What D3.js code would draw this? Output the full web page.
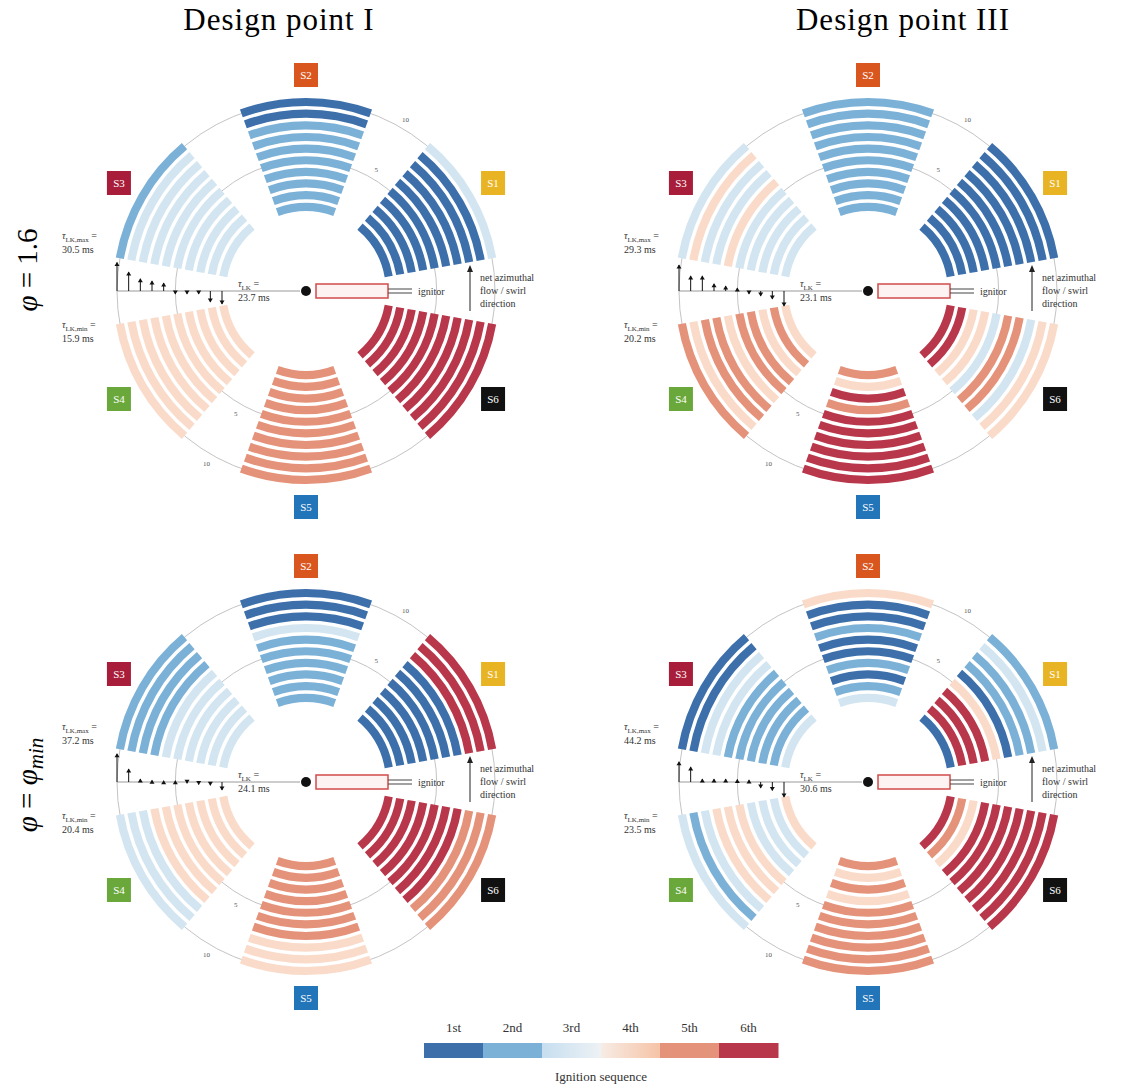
<!DOCTYPE html>
<html>
<head>
<meta charset="utf-8">
<script src="https://cdn.jsdelivr.net/npm/d3@7"></script>
<style>
  body { margin: 0; background: #fff; }
  text { font-family: 'Liberation Serif', 'DejaVu Serif', serif; }
</style>
</head>
<body>
<div id="chart"></div>
<script>
// burners and their azimuthal positions (deg, counter-clockwise from the ignitor)
const sectorNames = ['S1', 'S2', 'S3', 'S4', 'S5', 'S6'];
const sectorAngles = [30, 90, 150, 210, 270, 330];
const sectorColors = ['#e8b423', '#d9561f', '#a81e3a', '#6aa83c', '#2275b8', '#111111'];

const rankLabels = ['1st', '2nd', '3rd', '4th', '5th', '6th'];
const rankColors = ['#3d70ab', '#7cb1d7', '#d2e5f1', '#fadbc9', '#e5927a', '#b9374b'];

const runIds = [1, 2, 3, 4, 5, 6, 7, 8, 9, 10];
const ringLabels = [5, 10];

// ignition rank of each burner (rows S1..S6), runs 1 (inner) .. 10 (outer)
const seqI_16 = [
  [1, 1, 1, 1, 1, 1, 1, 1, 1, 3],
  [2, 2, 2, 2, 2, 2, 2, 2, 1, 1],
  [3, 3, 3, 3, 3, 3, 3, 3, 3, 2],
  [4, 4, 4, 4, 4, 4, 4, 4, 4, 4],
  [5, 5, 5, 5, 5, 5, 5, 5, 5, 5],
  [6, 6, 6, 6, 6, 6, 6, 6, 6, 6]
];
const seqIII_16 = [
  [1, 1, 1, 1, 1, 1, 1, 1, 1, 1],
  [2, 2, 2, 2, 2, 2, 2, 2, 2, 2],
  [3, 3, 3, 3, 3, 4, 3, 3, 4, 3],
  [4, 5, 4, 5, 5, 4, 5, 5, 4, 5],
  [5, 4, 6, 5, 6, 6, 6, 6, 6, 6],
  [6, 6, 4, 4, 3, 5, 5, 3, 4, 4]
];
const seqI_min = [
  [1, 1, 1, 1, 1, 1, 1, 6, 6, 6],
  [2, 2, 2, 2, 2, 2, 3, 1, 1, 1],
  [3, 3, 3, 3, 3, 3, 2, 2, 2, 2],
  [4, 4, 4, 4, 4, 4, 4, 3, 3, 3],
  [5, 5, 5, 5, 5, 5, 5, 4, 4, 4],
  [6, 6, 6, 6, 6, 6, 6, 5, 5, 5]
];
const seqIII_min = [
  [1, 6, 6, 6, 4, 1, 2, 2, 3, 2],
  [3, 2, 1, 2, 1, 1, 2, 1, 1, 4],
  [3, 2, 2, 2, 2, 2, 3, 3, 1, 1],
  [4, 3, 3, 3, 4, 4, 4, 3, 2, 3],
  [5, 4, 5, 4, 5, 5, 5, 5, 5, 5],
  [6, 5, 4, 6, 6, 6, 6, 6, 6, 6]
];

// light-around time deviation from the mean per run (ms), runs 1..10
const devI_16 = [-3.1, -2.6, -0.7, -0.7, -0.7, 1.9, 2.4, 2.9, 4.5, 6.8];
const devIII_16 = [-3.6, -1.9, -1.2, -0.7, 0.7, 1.2, 1.7, 3.6, 3.6, 6.2];
const devI_min = [-1.9, -0.8, -0.6, -0.3, 0.3, 0.3, 0.4, 0.7, 3.1, 6.7];
const devIII_min = [-3.6, -2.0, -1.4, 0.5, 0.6, 0.7, 0.7, 0.7, 3.6, 4.8];

// tau_LK labels: [max, min, mean]
const tauI_16 = ['30.5', '15.9', '23.7'];
const tauIII_16 = ['29.3', '20.2', '23.1'];
const tauI_min = ['37.2', '20.4', '24.1'];
const tauIII_min = ['44.2', '23.5', '30.6'];

const colTitles = ['Design point I', 'Design point III'];

const panels = [
  {col: 0, row: 0, seq: seqI_16, dev: devI_16, tau: tauI_16},
  {col: 1, row: 0, seq: seqIII_16, dev: devIII_16, tau: tauIII_16},
  {col: 0, row: 1, seq: seqI_min, dev: devI_min, tau: tauI_min},
  {col: 1, row: 1, seq: seqIII_min, dev: devIII_min, tau: tauIII_min}
];

const width = 1132, height = 1088;
const colX = [306, 868];
const rowY = [291, 782];

const svg = d3.select('#chart').append('svg')
  .attr('width', width)
  .attr('height', height);

const defs = svg.append('defs');

const rScale = d3.scaleLinear().domain([1, 10]).range([84, 189]);
const color = d3.scaleOrdinal().domain([1, 2, 3, 4, 5, 6]).range(rankColors);
const yStem = d3.scaleLinear().domain([-10, 10]).range([42, -42]);
const halfSpan = 20;
const bandHalf = 4.1;
const toRad = a => (90 - a) * Math.PI / 180;
const arcGen = d3.arc();

function tauText(sel, x, y, sub, val, anchor) {
  const t = sel.append('text')
    .attr('x', x).attr('y', y)
    .attr('font-size', 10)
    .attr('fill', '#333')
    .attr('text-anchor', anchor || 'start');
  t.append('tspan').attr('font-style', 'italic').text('τ');
  t.append('tspan').attr('font-size', 7).attr('dy', 3).text(sub);
  t.append('tspan').attr('dy', -3).text(' =');
  sel.append('text')
    .attr('x', x).attr('y', y + 14)
    .attr('font-size', 10)
    .attr('fill', '#333')
    .text(val + ' ms');
}

panels.forEach(p => {
  const g = svg.append('g')
    .attr('transform', `translate(${colX[p.col]},${rowY[p.row]})`);

  // reference rings at run 5 and run 10
  g.selectAll('.ring')
    .data(ringLabels)
    .join('circle')
    .attr('class', 'ring')
    .attr('r', d => rScale(d))
    .attr('fill', 'none')
    .attr('stroke', '#c4c4c4')
    .attr('stroke-width', 1);

  // ignition-sequence bands
  const bands = [];
  p.seq.forEach((ranks, si) => {
    ranks.forEach((rank, ri) => {
      bands.push({angle: sectorAngles[si], run: runIds[ri], rank: rank});
    });
  });

  g.selectAll('.band')
    .data(bands)
    .join('path')
    .attr('class', 'band')
    .attr('d', d => arcGen({
      innerRadius: rScale(d.run) - bandHalf,
      outerRadius: rScale(d.run) + bandHalf,
      startAngle: toRad(d.angle + halfSpan),
      endAngle: toRad(d.angle - halfSpan)
    }))
    .attr('fill', d => color(d.rank));

  // ring labels
  [60, 240].forEach(a => {
    g.selectAll(null)
      .data(ringLabels)
      .join('text')
      .attr('x', d => (rScale(d) + 10) * Math.cos(a * Math.PI / 180))
      .attr('y', d => -(rScale(d) + 10) * Math.sin(a * Math.PI / 180) + 3)
      .attr('text-anchor', 'middle')
      .attr('font-size', 7)
      .attr('fill', '#555')
      .text(d => d);
  });

  // burner labels
  const lab = g.selectAll('.burner')
    .data(sectorNames)
    .join('g')
    .attr('class', 'burner')
    .attr('transform', (d, i) => {
      const a = sectorAngles[i] * Math.PI / 180;
      return `translate(${216 * Math.cos(a)},${-216 * Math.sin(a)})`;
    });
  lab.append('rect')
    .attr('x', -12).attr('y', -12)
    .attr('width', 24).attr('height', 24)
    .attr('fill', (d, i) => sectorColors[i]);
  lab.append('text')
    .attr('text-anchor', 'middle')
    .attr('y', 4)
    .attr('font-size', 11)
    .attr('fill', '#fff')
    .text(d => d);

  // light-around time stems
  g.append('line')
    .attr('x1', -rScale(10)).attr('x2', -6)
    .attr('y1', 0).attr('y2', 0)
    .attr('stroke', '#999').attr('stroke-width', 1);

  const stems = g.selectAll('.stem')
    .data(p.dev.map((v, i) => ({run: runIds[i], v: v})))
    .join('g')
    .attr('class', 'stem')
    .attr('transform', d => `translate(${-rScale(d.run)},0)`);
  stems.append('line')
    .attr('y1', 0).attr('y2', d => yStem(d.v))
    .attr('stroke', '#111').attr('stroke-width', 1);
  stems.append('path')
    .attr('d', d => {
      const y = yStem(d.v);
      const s = d.v >= 0 ? 1 : -1;
      return `M-2.5,${y + s * 3.5}L2.5,${y + s * 3.5}L0,${y - s * 0.5}Z`;
    })
    .attr('fill', '#111');

  tauText(g, -68, -4, 'LK', p.tau[2]);
  tauText(g, -244, -52, 'LK,max', p.tau[0]);
  tauText(g, -244, 37, 'LK,min', p.tau[1]);

  // ignitor
  g.append('circle').attr('r', 5).attr('fill', '#111');
  g.append('rect')
    .attr('x', 10).attr('y', -7)
    .attr('width', 72).attr('height', 14)
    .attr('fill', '#fdf3f3')
    .attr('stroke', '#d24b4b')
    .attr('stroke-width', 1.5);
  [-2, 2].forEach(dy => {
    g.append('line')
      .attr('x1', 82).attr('x2', 106)
      .attr('y1', dy).attr('y2', dy)
      .attr('stroke', '#444').attr('stroke-width', 1);
  });
  g.append('text')
    .attr('x', 112).attr('y', 4)
    .attr('font-size', 10)
    .attr('fill', '#333')
    .text('ignitor');

  // swirl direction arrow
  g.append('line')
    .attr('x1', 164).attr('x2', 164)
    .attr('y1', 20).attr('y2', -20)
    .attr('stroke', '#222').attr('stroke-width', 1);
  g.append('path')
    .attr('d', 'M161,-19L167,-19L164,-26Z')
    .attr('fill', '#222');
  ['net azimuthal', 'flow / swirl', 'direction'].forEach((t, i) => {
    g.append('text')
      .attr('x', 174).attr('y', -10 + i * 13)
      .attr('font-size', 10)
      .attr('fill', '#333')
      .text(t);
  });
});

// column titles
svg.selectAll('.col-title')
  .data(colTitles)
  .join('text')
  .attr('class', 'col-title')
  .attr('x', (d, i) => [279, 903][i])
  .attr('y', 30)
  .attr('text-anchor', 'middle')
  .attr('font-size', 31)
  .attr('letter-spacing', 1)
  .text(d => d);

// row labels
const rl1 = svg.append('text')
  .attr('transform', 'translate(37,270) rotate(-90)')
  .attr('text-anchor', 'middle')
  .attr('font-size', 29);
rl1.append('tspan').attr('font-style', 'italic').text('φ');
rl1.append('tspan').text(' = 1.6');

const rl2 = svg.append('text')
  .attr('transform', 'translate(37,785) rotate(-90)')
  .attr('text-anchor', 'middle')
  .attr('font-size', 29);
rl2.append('tspan').attr('font-style', 'italic').text('φ');
rl2.append('tspan').text(' = ');
rl2.append('tspan').attr('font-style', 'italic').text('φ');
rl2.append('tspan').attr('font-style', 'italic').attr('font-size', 21).attr('dy', 6).text('min');

// legend
const legendX = d3.scaleBand().domain(rankLabels).range([424, 778]);
const grads = [['#c6def0', '#eef2f5'], ['#f7ece5', '#f6c3a6']];
grads.forEach((c, i) => {
  const lg = defs.append('linearGradient').attr('id', 'lg' + i);
  lg.append('stop').attr('offset', '0%').attr('stop-color', c[0]);
  lg.append('stop').attr('offset', '100%').attr('stop-color', c[1]);
});
svg.selectAll('.leg-rect')
  .data(rankLabels)
  .join('rect')
  .attr('class', 'leg-rect')
  .attr('x', d => legendX(d))
  .attr('y', 1043)
  .attr('width', legendX.bandwidth() + 0.5)
  .attr('height', 15)
  .attr('fill', (d, i) => i === 2 ? 'url(#lg0)' : i === 3 ? 'url(#lg1)' : rankColors[i]);
svg.selectAll('.leg-label')
  .data(rankLabels)
  .join('text')
  .attr('class', 'leg-label')
  .attr('x', d => legendX(d) + legendX.bandwidth() / 2)
  .attr('y', 1032)
  .attr('text-anchor', 'middle')
  .attr('font-size', 13)
  .attr('fill', '#333')
  .text(d => d);
svg.append('text')
  .attr('x', 601).attr('y', 1081)
  .attr('text-anchor', 'middle')
  .attr('font-size', 13)
  .attr('fill', '#333')
  .text('Ignition sequence');
</script>
</body>
</html>
